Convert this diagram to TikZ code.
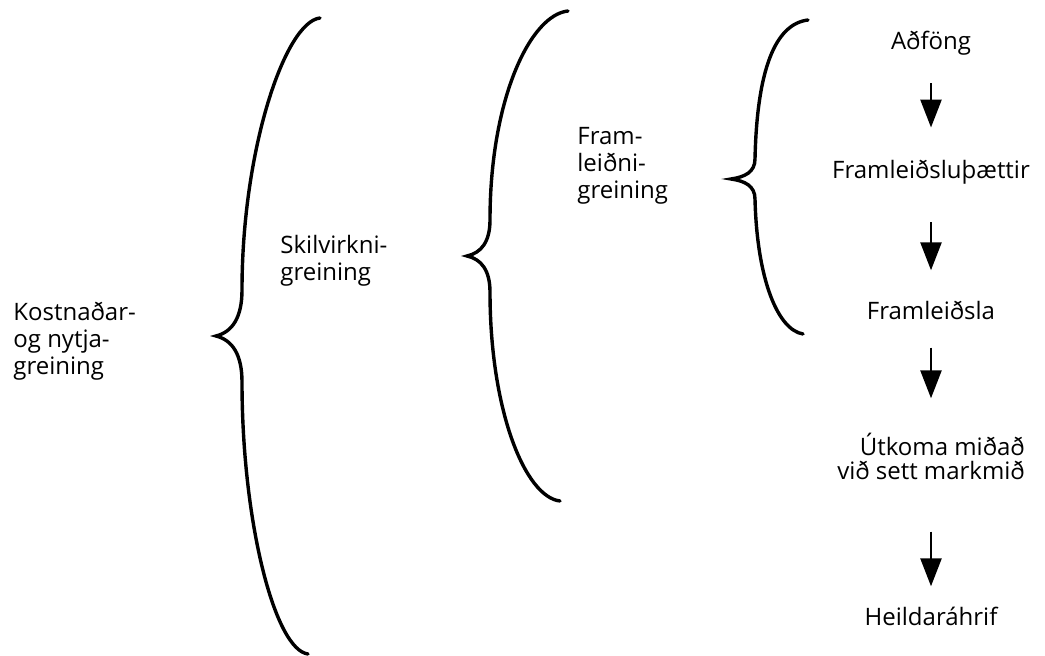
\documentclass[tikz,border=0pt]{standalone}
\usepackage{fontspec}
\setmainfont{Open Sans}
\usetikzlibrary{arrows.meta}

\begin{document}
\begin{tikzpicture}[x=0.5pt, y=-0.5pt,
      label_left/.style ={rectangle, draw=none, fill=none, anchor=west,
        align=left, inner sep=0pt, font=\fontsize{12}{13.5}\selectfont},
      label_col/.style ={rectangle, draw=none, fill=none,
        align=right, inner sep=0pt, font=\fontsize{12}{12}\selectfont},
      brace_line/.style ={draw, line width=1.7pt, line cap=round},
      line/.style ={draw, line width=1.3pt, -{Triangle[length=14pt,width=10.5pt]}}]
    \useasboundingbox (0,0) rectangle (1045,656);
    %
    % 1. labels in front of the braces
    \node [label_left] (kost) at (13,341) {Kostnaðar-\\og nytja-\\greining};
    \node [label_left] (skil) at (280,261) {Skilvirkni-\\greining};
    \node [label_left] (fleid) at (577,166) {Fram-\\leiðni-\\greining};
    %
    % 2. the chain on the right
    \node [label_col] (adf) at (931,43) {Aðföng};
    \node [label_col] (fthaet) at (931,172) {Framleiðsluþættir};
    \node [label_col] (fsla) at (931,310) {Framleiðsla};
    \node [label_col] (utk) at (931,456) {Útkoma miðað\\við sett markmið};
    \node [label_col] (heild) at (931,616) {Heildaráhrif};
    %
    % 3. the three braces
    \path [brace_line] (320,18) .. controls (285,22) and (242,150) .. (242,290)
      .. controls (242,318) and (232,332) .. (216,336)
      .. controls (232,340) and (242,354) .. (242,382)
      .. controls (242,522) and (275,650) .. (308,654);
    \path [brace_line] (568,11) .. controls (530,15) and (490,100) .. (490,220)
      .. controls (490,242) and (481,253) .. (467,256)
      .. controls (481,259) and (490,270) .. (490,292)
      .. controls (490,410) and (525,497) .. (560,501);
    \path [brace_line] (808,20) .. controls (775,24) and (757,70) .. (755,159)
      .. controls (755,172) and (745,177) .. (731,179)
      .. controls (745,181) and (755,186) .. (755,199)
      .. controls (757,280) and (778,330) .. (803,334);
    %
    % 4. arrows between the steps
    \begin{scope}[every path/.style=line]
      \path [shorten <=14pt, shorten >=16pt] (adf) -- (fthaet);
      \path [shorten <=19pt, shorten >=15pt] (fthaet) -- (fsla);
      \path [shorten <=14pt, shorten >=17pt] (fsla) -- (utk);
      \path [shorten <=26pt, shorten >=10pt] (utk) -- (heild);
    \end{scope}
\end{tikzpicture}
\end{document}
